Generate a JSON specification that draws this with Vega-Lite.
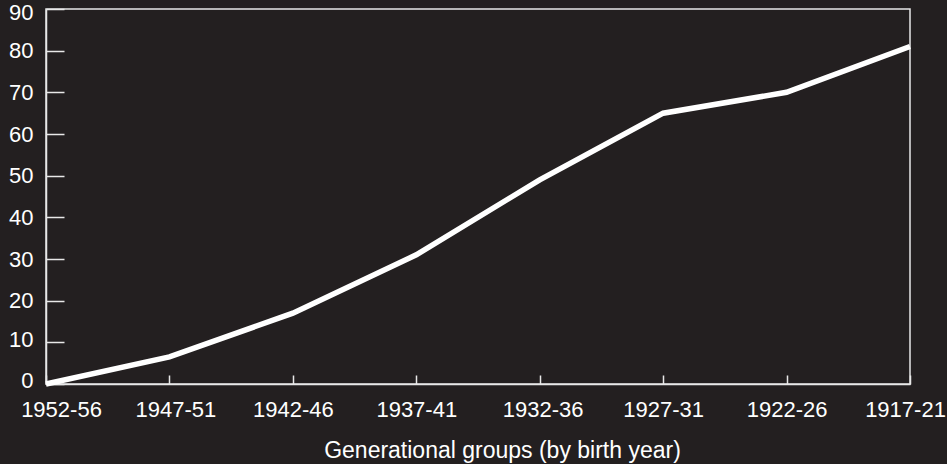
{
  "$schema": "https://vega.github.io/schema/vega-lite/v6.json",
  "autosize": "none",
  "width": 864,
  "height": 375,
  "padding": {"left": 46, "top": 9, "right": 37, "bottom": 80},
  "background": "#231f20",
  "config": {
    "view": {"stroke": "#e8e8e8", "strokeWidth": 1.5},
    "axis": {
      "grid": false,
      "domainColor": "#e8e8e8",
      "domainWidth": 1.5,
      "tickColor": "#e8e8e8",
      "tickWidth": 1.5,
      "labelColor": "#ffffff",
      "labelFont": "Liberation Sans",
      "labelFontSize": 22,
      "titleColor": "#ffffff",
      "titleFont": "Liberation Sans",
      "titleFontSize": 23,
      "titleFontWeight": "normal"
    }
  },
  "data": {
    "values": [
      {"group": "1952-56", "value": 0},
      {"group": "1947-51", "value": 6.5},
      {"group": "1942-46", "value": 17},
      {"group": "1937-41", "value": 31},
      {"group": "1932-36", "value": 49},
      {"group": "1927-31", "value": 65},
      {"group": "1922-26", "value": 70},
      {"group": "1917-21", "value": 81}
    ]
  },
  "mark": {"type": "line", "color": "#ffffff", "strokeWidth": 5.5, "strokeJoin": "miter", "strokeCap": "butt"},
  "encoding": {
    "x": {
      "field": "group",
      "type": "ordinal",
      "sort": null,
      "scale": {"type": "point", "padding": 0},
      "axis": {
        "title": "Generational groups (by birth year)",
        "labelAngle": 0,
        "tickSize": -9,
        "labelPadding": 24,
        "labelOverlap": false,
        "labelBound": false,
        "labelFlush": false,
        "titleBaseline": "alphabetic",
        "titleAlign": "center",
        "titleX": 456,
        "titleY": 73.3,
        "labelOffset": {
          "condition": [
            {"test": "datum.value === '1952-56'", "value": 15},
            {"test": "datum.value === '1947-51'", "value": 6},
            {"test": "datum.value === '1932-36'", "value": 3},
            {"test": "datum.value === '1917-21'", "value": -5}
          ],
          "value": 0
        }
      }
    },
    "y": {
      "field": "value",
      "type": "quantitative",
      "scale": {"domain": [0, 90], "nice": false, "zero": true},
      "axis": {
        "title": null,
        "values": [0, 10, 20, 30, 40, 50, 60, 70, 80, 90],
        "tickSize": -18,
        "labelPadding": 31,
        "labelFlush": false,
        "labelOffset": {
          "condition": [
            {"test": "datum.value === 90", "value": 3.5},
            {"test": "datum.value === 0", "value": -3.5},
            {"test": "datum.value === 10", "value": -3}
          ],
          "value": 0
        }
      }
    }
  }
}
